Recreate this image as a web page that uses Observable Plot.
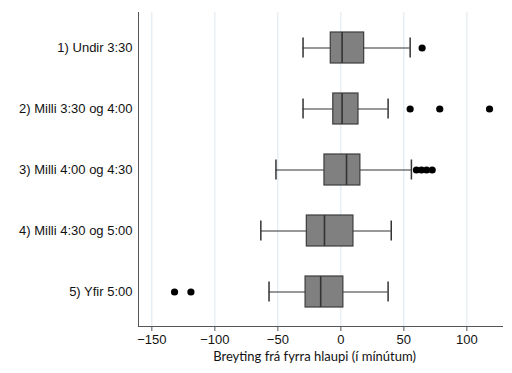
<!DOCTYPE html>
<html>
<head>
<meta charset="utf-8">
<script src="https://cdn.jsdelivr.net/npm/d3@7"></script>
<script src="https://cdn.jsdelivr.net/npm/@observablehq/plot@0.6"></script>
<style>
  html, body { margin: 0; padding: 0; background: #fff; }
</style>
</head>
<body>
<div id="chart"></div>
<script>
const categories = ["1) Undir 3:30", "2) Milli 3:30 og 4:00", "3) Milli 4:00 og 4:30", "4) Milli 4:30 og 5:00", "5) Yfir 5:00"];
const lowWhisker = [-30, -30, -51.5, -63.5, -57];
const q1 = [-8, -6, -13, -27, -28];
const median = [1, 1, 4.5, -13, -16];
const q3 = [18.5, 14, 15.5, 10, 2];
const highWhisker = [55, 37.5, 56, 40, 37.5];
const outliers = [[64.5], [55, 78.5, 118], [60, 64, 68, 72.5], [], [-132, -119]];
const xTicks = [-150, -100, -50, 0, 50, 100];
const xDomain = [-160.6, 128.3];
const xLabel = "Breyting frá fyrra hlaupi (í mínútum)";

const boxes = categories.map((c, i) => ({cat: c, lo: lowWhisker[i], q1: q1[i], med: median[i], q3: q3[i], hi: highWhisker[i]}));
const outlierRows = categories.flatMap((c, i) => outliers[i].map(v => ({cat: c, v})));

const chart = Plot.plot({
  width: 512,
  height: 373,
  marginLeft: 138,
  marginRight: 10,
  marginTop: 12,
  marginBottom: 47,
  style: {fontFamily: "Liberation Sans, Arial, sans-serif", background: "#fff"},
  x: {domain: xDomain, ticks: xTicks},
  y: {type: "band", domain: categories, paddingInner: 0.5, paddingOuter: 0.313},
  marks: [
    Plot.gridX(xTicks, {stroke: "#dce7ee", strokeOpacity: 1}),
    Plot.axisX(xTicks, {tickSize: 5, tickPadding: 3, fontSize: 13, fill: "#111", stroke: "#555", label: null}),
    Plot.axisY({tickSize: 0, tickPadding: 6, fontSize: 13, fill: "#111", label: null}),
    Plot.frame({anchor: "left", stroke: "#555"}),
    Plot.frame({anchor: "bottom", stroke: "#555"}),
    Plot.ruleY(boxes, {y: "cat", x1: "lo", x2: "hi", stroke: "#333", strokeWidth: 1.2}),
    Plot.tickX(boxes, {x: "lo", y: "cat", stroke: "#333", strokeWidth: 1.5, insetTop: 5.5, insetBottom: 5.5}),
    Plot.tickX(boxes, {x: "hi", y: "cat", stroke: "#333", strokeWidth: 1.5, insetTop: 5.5, insetBottom: 5.5}),
    Plot.barX(boxes, {y: "cat", x1: "q1", x2: "q3", fill: "#808080", stroke: "#3c3c3c", strokeWidth: 1.2}),
    Plot.tickX(boxes, {x: "med", y: "cat", stroke: "#333", strokeWidth: 1.6}),
    Plot.dot(outlierRows, {x: "v", y: "cat", r: 3.6, fill: "#000", stroke: "none"}),
    Plot.text([xLabel], {frameAnchor: "bottom", dy: 34, dx: -6, fontSize: 13, fontFamily: "Lato, Open Sans, sans-serif", fill: "#111"})
  ]
});
document.getElementById("chart").appendChild(chart);
</script>
</body>
</html>
